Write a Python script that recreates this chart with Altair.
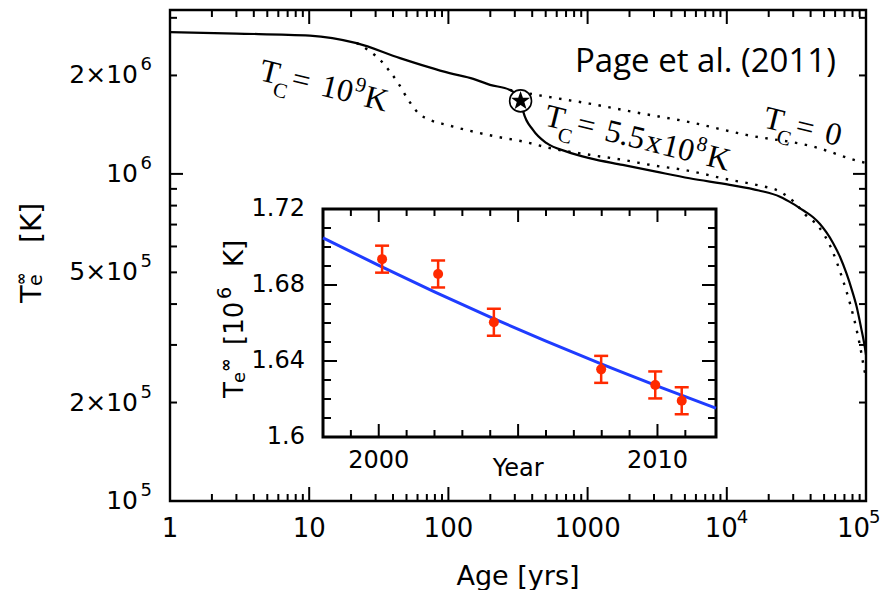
import altair as alt
import pandas as pd

# ---------------- main panel: cooling curves (age [yr], Te_inf [K]) ----------------
solid_age = [1, 3, 10.1, 21.9, 44.9, 102, 151, 199, 276, 335, 345, 405, 508, 708, 1030,
             1786, 3100, 5400, 10500, 17000, 24100, 30000, 36000, 41700, 46700, 52000,
             58100, 65000, 72300, 79000, 85600, 92000, 98000, 100000]
solid_T = [2.713e6, 2.685e6, 2.648e6, 2.51e6, 2.259e6, 2.032e6, 1.952e6, 1.872e6, 1.806e6,
           1.664e6, 1.55e6, 1.363e6, 1.241e6, 1.17e6, 1.117e6, 1.065e6, 1.016e6, 9.70e5,
           9.26e5, 8.90e5, 8.52e5, 8.10e5, 7.70e5, 7.37e5, 7.03e5, 6.62e5, 6.14e5, 5.58e5,
           4.97e5, 4.43e5, 3.93e5, 3.40e5, 2.96e5, 2.80e5]

tc9_age = [21.9, 23.2, 27.4, 32.3, 38.0, 43.6, 51.5, 60.9, 73.5, 97.5, 221, 345, 537, 1030,
           1786, 3100, 4900, 10500, 17000, 24100, 30000, 36800, 45700, 56900, 67000, 76700,
           85700, 93100, 97200, 100000]
tc9_T = [2.51e6, 2.481e6, 2.366e6, 2.232e6, 2.055e6, 1.894e6, 1.684e6, 1.533e6, 1.463e6,
         1.412e6, 1.30e6, 1.256e6, 1.199e6, 1.144e6, 1.104e6, 1.058e6, 1.029e6, 9.59e5,
         9.22e5, 8.83e5, 8.25e5, 7.49e5, 6.90e5, 5.86e5, 4.85e5, 4.02e5, 3.33e5, 2.80e5,
         2.52e5, 2.40e5]

tc0_age = [276, 431, 1030, 2386, 5170, 13800, 41800, 90600, 100000]
tc0_T = [1.806e6, 1.744e6, 1.640e6, 1.533e6, 1.445e6, 1.316e6, 1.212e6, 1.091e6, 1.08e6]

casA_age = [330]
casA_T = [1.672e6]

# ---------------- inset: Cas A temperature vs year ----------------
obs_year = [2000.12, 2002.13, 2004.13, 2007.98, 2009.92, 2010.87]
obs_T = [1.6936, 1.6858, 1.6604, 1.6356, 1.6274, 1.6191]
obs_err = [0.0071, 0.0071, 0.0071, 0.0071, 0.0071, 0.0071]

fit_year = [1998.0, 2000, 2002, 2004, 2006, 2008, 2010, 2012.1]
fit_T = [1.7048, 1.6903, 1.6764, 1.6631, 1.6504, 1.6383, 1.6268, 1.6152]

# ---------------- axes: domains, ticks, labels ----------------
X_DOMAIN = [1, 100000]
Y_DOMAIN = [100000, 3170000]
x_major = [1, 10, 100, 1000, 10000, 100000]
x_minor = [m * d for d in (1, 10, 100, 1000, 10000) for m in range(2, 10)]
y_major = [100000, 1000000]
y_minor = [200000, 300000, 400000, 500000, 600000, 700000, 800000, 900000, 2000000, 3000000]
x_plain_vals = [1, 10, 100, 1000]
x_plain_text = ["1", "10", "100", "1000"]
x_pow_vals = [10000, 100000]
x_pow_base = ["10", "10"]
x_pow_sup = ["4", "5"]
y_lab_vals = [100000, 200000, 500000, 1000000, 2000000]
y_lab_base = ["10", "2×10", "5×10", "10", "2×10"]
y_lab_sup = ["5", "5", "5", "6", "6"]

IX_DOMAIN = [1998.0, 2012.1]
IY_DOMAIN = [1.60, 1.72]
ix_major = [2000, 2005, 2010]
ix_minor = [1999, 2001, 2002, 2003, 2004, 2006, 2007, 2008, 2009, 2011]
iy_major = [1.60, 1.64, 1.68, 1.72]
iy_minor = [1.61, 1.62, 1.63, 1.65, 1.66, 1.67, 1.69, 1.70, 1.71]
ix_lab_vals = [2000, 2010]
ix_lab_text = ["2000", "2010"]
iy_lab_vals = [1.60, 1.64, 1.68, 1.72]
iy_lab_text = ["1.6", "1.64", "1.68", "1.72"]

SANS = "DejaVu Sans"
SERIF = "Liberation Serif"
RED = "#ff2a00"
BLUE = "#1f3cff"

sx = alt.Scale(type="log", domain=X_DOMAIN, nice=False)
sy = alt.Scale(type="log", domain=Y_DOMAIN, nice=False)
ix = alt.Scale(domain=IX_DOMAIN, range=[153, 546], nice=False, zero=False)
iy = alt.Scale(domain=IY_DOMAIN, range=[427, 199], nice=False, zero=False)


def X(f, s):
    return alt.X(f, scale=s, axis=None)


def Y(f, s):
    return alt.Y(f, scale=s, axis=None)


def curve(ages, temps, dash=None, width=2.2):
    df = pd.DataFrame({"age": ages, "T": temps})
    kw = dict(color="black", strokeWidth=width, interpolate="monotone", clip=True)
    if dash:
        kw["strokeDash"] = dash
    return alt.Chart(df).mark_line(**kw).encode(x=X("age:Q", sx), y=Y("T:Q", sy))


def dtext(x, y, s, size, dx=0, dy=0, angle=0, font=SERIF, align="left",
          baseline="alphabetic", xs=sx, ys=sy, weight="normal"):
    df = pd.DataFrame({"x": [x], "y": [y], "s": [s]})
    return alt.Chart(df).mark_text(font=font, fontSize=size, dx=dx, dy=dy, angle=angle,
                                   align=align, baseline=baseline, color="black",
                                   fontWeight=weight).encode(
        x=X("x:Q", xs), y=Y("y:Q", ys), text="s:N")


def ptext(px, py, s, size, dx=0, dy=0, angle=0, font=SANS, align="left",
          baseline="alphabetic", weight="normal"):
    df = pd.DataFrame({"s": [s]})
    return alt.Chart(df).mark_text(font=font, fontSize=size, dx=dx, dy=dy, angle=angle,
                                   align=align, baseline=baseline, color="black",
                                   fontWeight=weight).encode(
        x=alt.value(px), y=alt.value(py), text="s:N")


def label_layer(vals, texts, edge, horizontal, size, dx=0, dy=0, align="center",
                baseline="alphabetic", xs=sx, ys=sy):
    df = pd.DataFrame({"v": vals, "t": texts, "e": [edge] * len(vals)})
    m = alt.Chart(df).mark_text(font=SANS, fontSize=size, dx=dx, dy=dy, align=align,
                                baseline=baseline, color="black")
    if horizontal:
        return m.encode(x=X("v:Q", xs), y=Y("e:Q", ys), text="t:N")
    return m.encode(x=X("e:Q", xs), y=Y("v:Q", ys), text="t:N")


def tick_layer(vals, edge, vertical, size, xs, ys, clip=False, xoff=0, yoff=0, th=2):
    df = pd.DataFrame({"v": vals, "e": [edge] * len(vals)})
    kw = dict(orient="vertical" if vertical else "horizontal", size=size, thickness=th,
              color="black", opacity=1, clip=clip)
    if xoff:
        kw["xOffset"] = xoff
    if yoff:
        kw["yOffset"] = yoff
    m = alt.Chart(df).mark_tick(**kw)
    if vertical:
        return m.encode(x=X("v:Q", xs), y=Y("e:Q", ys))
    return m.encode(x=X("e:Q", xs), y=Y("v:Q", ys))


main_layers = []
# inward ticks on all four sides (centered on the frame and clipped to the plot)
for vals, L in ((x_major, 14), (x_minor, 7)):
    main_layers.append(tick_layer(vals, Y_DOMAIN[0], True, 2 * L, sx, sy, clip=True))
    main_layers.append(tick_layer(vals, Y_DOMAIN[1], True, 2 * L, sx, sy, clip=True))
for vals, L in ((y_major, 13), (y_minor, 7)):
    main_layers.append(tick_layer(vals, X_DOMAIN[0], False, 2 * L, sx, sy, clip=True))
    main_layers.append(tick_layer(vals, X_DOMAIN[1], False, 2 * L, sx, sy, clip=True))

DOT = [2.5, 7.5]
main_layers += [
    curve(tc9_age, tc9_T, dash=DOT, width=2.4),
    curve(tc0_age, tc0_T, dash=DOT, width=2.4),
    curve(solid_age, solid_T, width=2.2),
]

# plot frame
frame_main = pd.DataFrame({"x1": [X_DOMAIN[0]], "x2": [X_DOMAIN[1]],
                           "y1": [Y_DOMAIN[0]], "y2": [Y_DOMAIN[1]]})
main_layers.append(alt.Chart(frame_main).mark_rect(fillOpacity=0, stroke="black",
                                                   strokeWidth=2.4).encode(
    x=X("x1:Q", sx), x2="x2:Q", y=Y("y1:Q", sy), y2="y2:Q"))

star_df = pd.DataFrame({"age": casA_age, "T": casA_T})
STAR = ("M0,-1L0.235,-0.324L0.951,-0.309L0.38,0.124L0.588,0.809L0,0.4L-0.588,0.809"
        "L-0.38,0.124L-0.951,-0.309L-0.235,-0.324Z")
main_layers += [
    alt.Chart(star_df).mark_point(shape="circle", size=480, filled=True, fill="white",
                                  stroke="black", strokeWidth=1.6, opacity=1).encode(
        x=X("age:Q", sx), y=Y("T:Q", sy)),
    alt.Chart(star_df).mark_point(shape=STAR, size=400, filled=True, color="black",
                                  opacity=1).encode(x=X("age:Q", sx), y=Y("T:Q", sy)),
]

# axis labels of the main panel
pow_dx = [(11, 10), (4, 3)]
main_layers.append(label_layer(x_plain_vals, x_plain_text, Y_DOMAIN[0], True, 26, dy=36))
for i, v in enumerate(x_pow_vals):
    bdx, sdx = pow_dx[i]
    main_layers.append(label_layer([v], [x_pow_base[i]], Y_DOMAIN[0], True, 26, dx=bdx,
                                   dy=36, align="right"))
    main_layers.append(label_layer([v], [x_pow_sup[i]], Y_DOMAIN[0], True, 18, dx=sdx,
                                   dy=22, align="left"))
main_layers += [
    label_layer(y_lab_vals, y_lab_base, X_DOMAIN[0], False, 25, dx=-32, align="right",
                baseline="middle"),
    label_layer(y_lab_vals, y_lab_sup, X_DOMAIN[0], False, 18, dx=-18, dy=-10,
                align="right", baseline="middle"),
]

# axis titles of the main panel
main_layers += [
    ptext(348, 575, "Age [yrs]", 27, align="center"),
    ptext(-129, 293, "T", 29, angle=270),
    ptext(-129, 293, "e", 19, dx=17, dy=1, angle=270),
    ptext(-129, 293, "∞", 15, dx=18, dy=-15, angle=270, weight="bold"),
    ptext(-129, 293, "[K]", 28, dx=60, angle=270),
]


# curve annotations
def tc_label(anchor_age, anchor_T, pieces, angle):
    out = []
    for s, dx, dy, size in pieces:
        out.append(dtext(anchor_age, anchor_T, s, size, dx=dx, dy=dy, angle=angle))
    return out


main_layers += tc_label(4.29, 1.94e6, [("T", 0, 0, 32), ("C", 17, 12, 21), ("=", 33, 0, 32),
                                       ("10", 63, 0, 32), ("9", 96, -13, 21), ("K", 108, 0, 32)], 14)
main_layers += tc_label(478, 1.412e6, [("T", 0, 0, 32), ("C", 17, 12, 21), ("=", 33, 0, 32),
                                       ("5.5", 62, 0, 32), ("x", 104, 0, 32), ("10", 121, 0, 32),
                                       ("8", 154, -13, 21), ("K", 167, 0, 32)], 14)
main_layers += tc_label(17900, 1.392e6, [("T", 0, 0, 32), ("C", 17, 12, 21), ("=", 33, 0, 32),
                                         ("0", 63, 0, 32)], 14)
main_layers.append(dtext(812, 2.051e6, "Page et al. (2011)", 33, font="Open Sans"))

# ---------------- inset layers ----------------
inset_layers = []
frame_df = pd.DataFrame({"x1": [IX_DOMAIN[0]], "x2": [IX_DOMAIN[1]],
                         "y1": [IY_DOMAIN[0]], "y2": [IY_DOMAIN[1]]})
inset_layers.append(alt.Chart(frame_df).mark_rect(fill="white", stroke="black",
                                                  strokeWidth=3).encode(
    x=X("x1:Q", ix), x2="x2:Q", y=Y("y1:Q", iy), y2="y2:Q"))
for vals, L in ((ix_major, 13), (ix_minor, 7)):
    inset_layers.append(tick_layer(vals, IY_DOMAIN[0], True, L, ix, iy, yoff=-L / 2))
    inset_layers.append(tick_layer(vals, IY_DOMAIN[1], True, L, ix, iy, yoff=L / 2))
for vals, L in ((iy_major, 14), (iy_minor, 8)):
    inset_layers.append(tick_layer(vals, IX_DOMAIN[0], False, L, ix, iy, xoff=L / 2))
    inset_layers.append(tick_layer(vals, IX_DOMAIN[1], False, L, ix, iy, xoff=-L / 2))

fit_df = pd.DataFrame({"year": fit_year, "T": fit_T})
inset_layers.append(alt.Chart(fit_df).mark_line(color=BLUE, strokeWidth=3,
                                                interpolate="monotone").encode(
    x=X("year:Q", ix), y=Y("T:Q", iy)))

obs_df = pd.DataFrame({"year": obs_year, "T": obs_T, "err": obs_err})
obs = alt.Chart(obs_df).transform_calculate(lo="datum.T - datum.err", hi="datum.T + datum.err")
inset_layers += [
    obs.mark_rule(color=RED, strokeWidth=2.5).encode(x=X("year:Q", ix), y=Y("lo:Q", iy), y2="hi:Q"),
    obs.mark_tick(orient="horizontal", color=RED, size=14, thickness=2.5, opacity=1).encode(
        x=X("year:Q", ix), y=Y("lo:Q", iy)),
    obs.mark_tick(orient="horizontal", color=RED, size=14, thickness=2.5, opacity=1).encode(
        x=X("year:Q", ix), y=Y("hi:Q", iy)),
    obs.mark_point(shape="circle", size=100, filled=True, color=RED, opacity=1).encode(
        x=X("year:Q", ix), y=Y("T:Q", iy)),
]

inset_layers += [
    label_layer(ix_lab_vals, ix_lab_text, IY_DOMAIN[0], True, 24, dy=12, baseline="top",
                xs=ix, ys=iy),
    label_layer(iy_lab_vals, iy_lab_text, IX_DOMAIN[0], False, 24, dx=-18, align="right",
                baseline="middle", xs=ix, ys=iy),
    dtext(2005, IY_DOMAIN[0], "Year", 24, dy=39, font=SANS, align="center", xs=ix, ys=iy),
    ptext(73, 388, "T", 26, angle=270),
    ptext(73, 388, "e", 18, dx=15, dy=2, angle=270),
    ptext(73, 388, "∞", 16, dx=26, dy=-12, angle=270, weight="bold"),
    ptext(73, 388, "[10", 26, dx=53, angle=270),
    ptext(73, 388, "6", 19, dx=99, dy=-12, angle=270),
    ptext(73, 388, "K]", 26, dx=131, angle=270),
]

main = alt.layer(*main_layers)
inset = alt.layer(*inset_layers)

chart = alt.layer(main, inset).resolve_scale(x="independent", y="independent").properties(
    width=696, height=491,
    autosize=alt.AutoSizeParams(type="none"),
    padding={"left": 162, "top": 2, "right": 19, "bottom": 89},
).configure_view(stroke=None).configure(background="white")

chart.save("out.html", embed_options={"renderer": "svg", "actions": False})
